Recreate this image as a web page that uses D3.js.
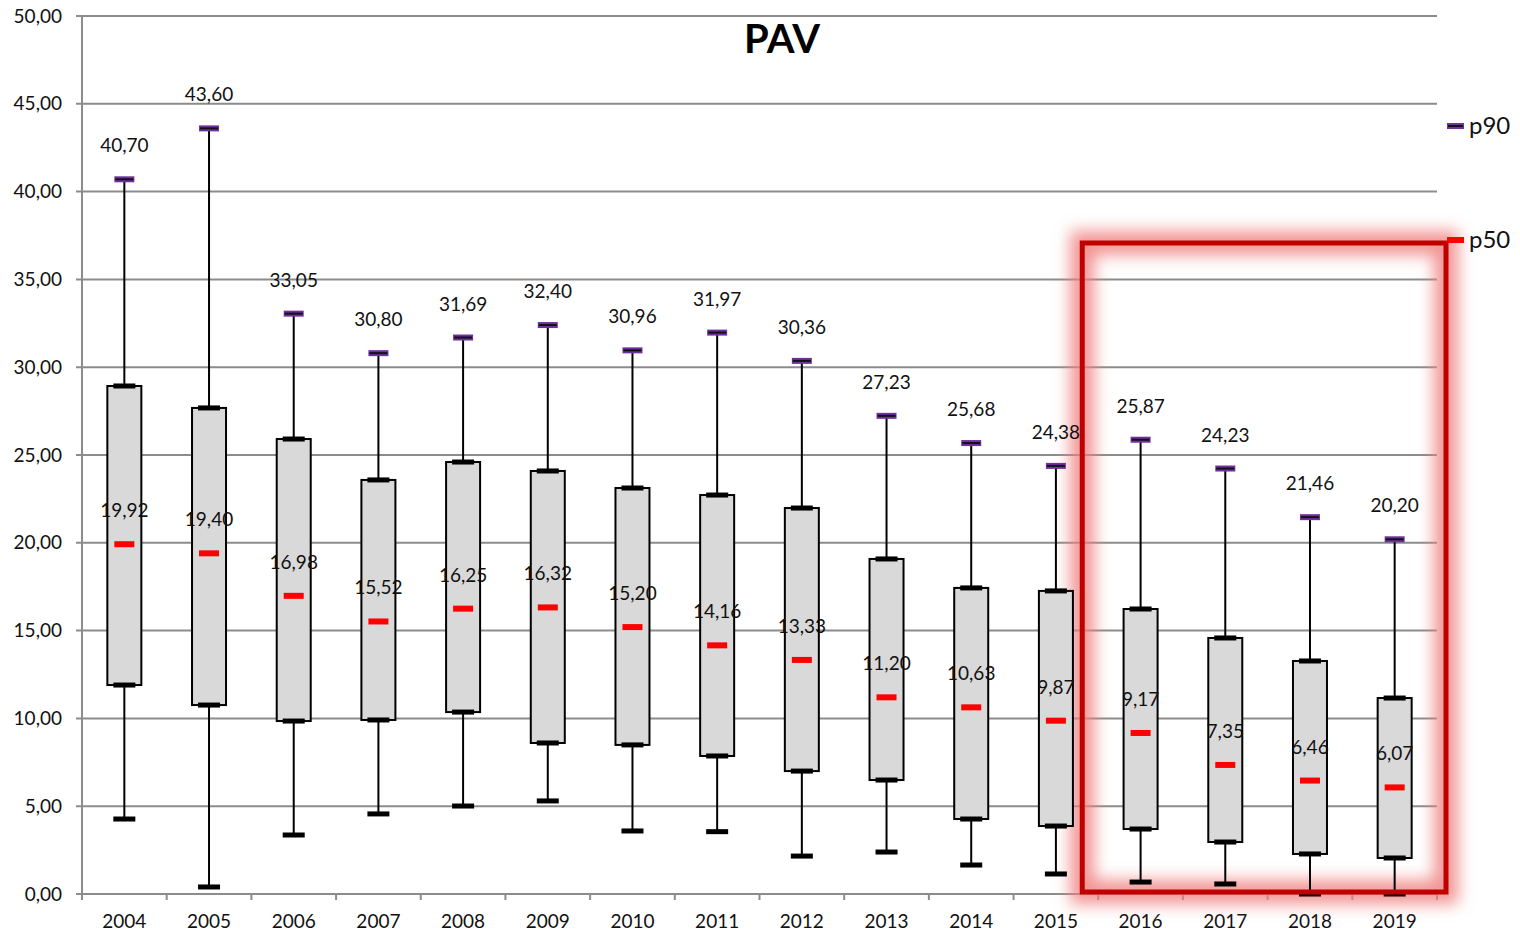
<!DOCTYPE html>
<html><head><meta charset="utf-8">
<script src="https://cdn.jsdelivr.net/npm/d3@7"></script>
<style>body{margin:0;background:#fff}svg{display:block}text{font-family:Lato,"Open Sans",sans-serif}</style>
</head><body>
<svg id="c" width="1520" height="933"></svg>
<script>
const years = ["2004","2005","2006","2007","2008","2009","2010","2011","2012","2013","2014","2015","2016","2017","2018","2019"];
const p90 = [40.70,43.60,33.05,30.80,31.69,32.40,30.96,31.97,30.36,27.23,25.68,24.38,25.87,24.23,21.46,20.20];
const p75 = [28.93,27.68,25.91,23.58,24.60,24.09,23.12,22.72,21.98,19.08,17.43,17.26,16.23,14.58,13.27,11.16];
const p50 = [19.92,19.40,16.98,15.52,16.25,16.32,15.20,14.16,13.33,11.20,10.63,9.87,9.17,7.35,6.46,6.07];
const p25 = [11.90,10.76,9.85,9.91,10.36,8.60,8.49,7.86,7.00,6.49,4.27,3.87,3.70,2.96,2.28,2.05];
const p10 = [4.27,0.40,3.36,4.56,5.01,5.30,3.59,3.55,2.16,2.39,1.65,1.14,0.68,0.57,0.00,0.00];
const yTicks = [0,5,10,15,20,25,30,35,40,45,50];
const highlight = ["2016","2019"];
const title = "PAV";

const svg = d3.select("#c");
const L=82, R=1437, T=16, B=894;
const x = d3.scaleBand().domain(years).range([L,R]);
const y = d3.scaleLinear().domain([0,50]).range([B,T]);
const fmt = v => v.toFixed(2).replace(".", ",");
const FS = 19;
const defs = svg.append("defs");
const f = defs.append("filter").attr("id","glow").attr("x","-20%").attr("y","-20%").attr("width","140%").attr("height","140%");
f.append("feGaussianBlur").attr("stdDeviation",8);

// gridlines
svg.append("g").selectAll("line").data(yTicks).join("line")
  .attr("x1",L-6).attr("x2",R).attr("y1",d=>y(d)).attr("y2",d=>y(d))
  .attr("stroke","#8c8c8c").attr("stroke-width",2);
svg.append("line").attr("x1",L).attr("x2",L).attr("y1",T).attr("y2",B+6).attr("stroke","#8c8c8c").attr("stroke-width",2);
// x ticks
const bounds = years.map(d=>x(d)).concat([R]);
svg.append("g").selectAll("line").data(bounds).join("line")
  .attr("x1",d=>d).attr("x2",d=>d).attr("y1",B).attr("y2",B+6).attr("stroke","#8c8c8c").attr("stroke-width",2);
// y labels
svg.append("g").selectAll("text").data(yTicks).join("text")
  .attr("x",L-20).attr("y",d=>y(d)).attr("dy","0.35em").attr("text-anchor","end")
  .attr("font-size",FS).attr("fill","#111").text(d=>fmt(d));
// x labels
svg.append("g").selectAll("text").data(years).join("text")
  .attr("x",d=>x(d)+x.bandwidth()/2).attr("y",B+34).attr("text-anchor","middle")
  .attr("font-size",FS).attr("fill","#111").text(d=>d);

// highlight rectangle (glow)
const hx1 = x(highlight[0])-16, hx2 = x(highlight[1])+x.bandwidth()+9;
const hy1 = 243, hy2 = B-2;
svg.append("rect").attr("x",hx1).attr("y",hy1).attr("width",hx2-hx1).attr("height",hy2-hy1)
  .attr("fill","none").attr("stroke","#f08080").attr("stroke-opacity",0.85).attr("stroke-width",24).attr("filter","url(#glow)");

const g = svg.append("g");
const data = years.map((yr,i)=>({yr,p10:p10[i],p25:p25[i],p50:p50[i],p75:p75[i],p90:p90[i]}));
const cx = d=>x(d.yr)+x.bandwidth()/2;
const bw = 34, cw = 22;
// whiskers
g.selectAll(".wu").data(data).join("line").attr("x1",cx).attr("x2",cx)
  .attr("y1",d=>y(d.p90)).attr("y2",d=>y(d.p75)).attr("stroke","#000").attr("stroke-width",2);
g.selectAll(".wl").data(data).join("line").attr("x1",cx).attr("x2",cx)
  .attr("y1",d=>y(d.p25)).attr("y2",d=>y(d.p10)).attr("stroke","#000").attr("stroke-width",2);
// boxes
g.selectAll(".box").data(data).join("rect")
  .attr("x",d=>cx(d)-bw/2).attr("y",d=>y(d.p75)).attr("width",bw).attr("height",d=>y(d.p25)-y(d.p75))
  .attr("fill","#d9d9d9").attr("stroke","#000").attr("stroke-width",2);
// caps at quartiles and p10
["p75","p25","p10"].forEach(k=>{
  g.selectAll(".c"+k).data(data).join("rect")
   .attr("x",d=>cx(d)-cw/2).attr("y",d=>y(d[k])-2.5).attr("width",cw).attr("height",5).attr("fill","#000");
});
// p90 marker
g.selectAll(".m90").data(data).join("rect")
  .attr("x",d=>cx(d)-10).attr("y",d=>y(d.p90)-3).attr("width",20).attr("height",6).attr("fill","#7030a0");
g.selectAll(".m90b").data(data).join("rect")
  .attr("x",d=>cx(d)-9).attr("y",d=>y(d.p90)-1).attr("width",18).attr("height",2).attr("fill","#111");
// p50 marker
g.selectAll(".m50").data(data).join("rect")
  .attr("x",d=>cx(d)-10).attr("y",d=>y(d.p50)-3).attr("width",20).attr("height",6).attr("fill","#ff0000");
// labels
g.selectAll(".l90").data(data).join("text").attr("x",cx).attr("y",d=>y(d.p90)-27)
  .attr("text-anchor","middle").attr("font-size",FS).attr("fill","#111").text(d=>fmt(d.p90));
g.selectAll(".l50").data(data).join("text").attr("x",cx).attr("y",d=>y(d.p50)-27)
  .attr("text-anchor","middle").attr("font-size",FS).attr("fill","#111").text(d=>fmt(d.p50));

// highlight solid stroke on top
svg.append("rect").attr("x",hx1).attr("y",hy1).attr("width",hx2-hx1).attr("height",hy2-hy1)
  .attr("fill","none").attr("stroke","#c00000").attr("stroke-width",5);

// title
svg.append("text").attr("x",782).attr("y",53).attr("text-anchor","middle")
  .attr("font-size",40).attr("font-weight","bold").attr("fill","#000").text(title);

// legend
const leg = svg.append("g");
leg.append("rect").attr("x",1447).attr("y",123).attr("width",17).attr("height",6).attr("fill","#7030a0");
leg.append("rect").attr("x",1448).attr("y",125).attr("width",15).attr("height",2).attr("fill","#111");
leg.append("text").attr("x",1469).attr("y",126).attr("dy","0.35em").attr("font-size",24).attr("fill","#111").text("p90");
leg.append("rect").attr("x",1447).attr("y",237).attr("width",17).attr("height",6).attr("fill","#ff0000");
leg.append("text").attr("x",1469).attr("y",240).attr("dy","0.35em").attr("font-size",24).attr("fill","#111").text("p50");
</script>
</body></html>
